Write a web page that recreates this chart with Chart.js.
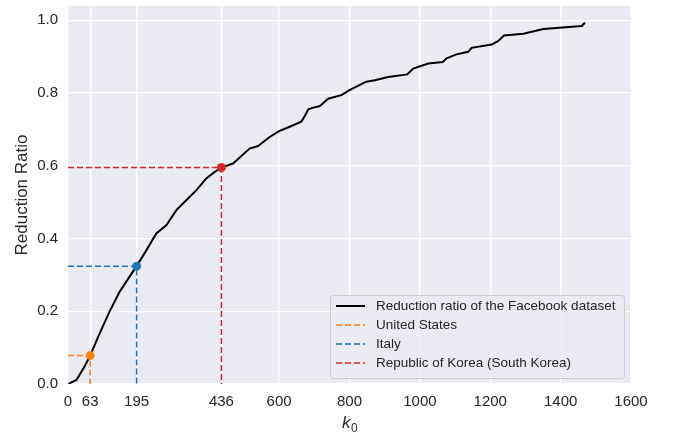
<!DOCTYPE html>
<html>
<head>
<meta charset="utf-8">
<script src="https://cdn.jsdelivr.net/npm/chart.js@4"></script>
<style>
  html, body { margin: 0; padding: 0; background: #ffffff; }
  #wrap { width: 674px; height: 437px; }
</style>
</head>
<body>
<div id="wrap"><canvas id="reductionChart"></canvas></div>
<script>
// curve: k0 -> reduction ratio
const kValues = [0, 24, 47, 63, 90, 118, 147, 175, 195, 223, 251, 280, 308, 336, 365, 393, 417, 436,
  469, 516, 540, 573, 600, 630, 663, 672, 683, 695, 716, 739, 777, 800, 848, 872, 910, 964, 981,
  1024, 1065, 1076, 1104, 1137, 1147, 1204, 1223, 1239, 1294, 1351, 1460, 1469];
const ratioValues = [0, 0.011, 0.048, 0.078, 0.139, 0.199, 0.254, 0.295, 0.324, 0.368, 0.414, 0.437,
  0.478, 0.505, 0.533, 0.565, 0.583, 0.595, 0.606, 0.647, 0.654, 0.679, 0.695, 0.707, 0.721, 0.735,
  0.755, 0.759, 0.764, 0.784, 0.794, 0.808, 0.831, 0.835, 0.844, 0.851, 0.867, 0.881, 0.885, 0.895,
  0.906, 0.913, 0.924, 0.933, 0.943, 0.958, 0.963, 0.976, 0.984, 0.993];

const countries = ['United States', 'Italy', 'Republic of Korea (South Korea)'];
const countryK = [63, 195, 436];
const countryRatio = [0.078, 0.324, 0.595];
const countryColors = ['#ff7f0e', '#1f77b4', '#d62728'];

const xTicks = [0, 63, 195, 436, 600, 800, 1000, 1200, 1400, 1600];
const yTicks = [0, 0.2, 0.4, 0.6, 0.8, 1.0];

const textColor = '#262626';
const fontFamily = '"Liberation Sans", Arial, sans-serif';

const datasets = [{
  label: 'Reduction ratio of the Facebook dataset',
  data: kValues.map((k, i) => ({ x: k, y: ratioValues[i] })),
  borderColor: '#000000',
  borderWidth: 2,
  pointRadius: 0,
  tension: 0,
  order: 2
}];

countries.forEach((name, i) => {
  datasets.push({
    label: name,
    // horizontal guide from the y axis, then down to the x axis
    data: [{ x: 0, y: countryRatio[i] }, { x: countryK[i], y: countryRatio[i] }, { x: countryK[i], y: 0 }],
    borderColor: countryColors[i],
    backgroundColor: countryColors[i],
    borderWidth: 1.5,
    borderDash: [6, 3],
    pointRadius: [0, 4.5, 0],
    pointBorderWidth: 0,
    tension: 0,
    order: 1
  });
});

const plotBackground = {
  id: 'plotBackground',
  beforeDraw(chart) {
    const { ctx, chartArea } = chart;
    ctx.save();
    ctx.fillStyle = '#eaeaf2';
    ctx.fillRect(chartArea.left, chartArea.top, chartArea.right - chartArea.left, chartArea.bottom - chartArea.top);
    ctx.restore();
  }
};

// matplotlib-like legend in the lower right corner of the axes
const innerLegend = {
  id: 'innerLegend',
  afterDraw(chart) {
    const { ctx, chartArea } = chart;
    const boxW = 294, boxH = 83;
    const x0 = chartArea.right - 7 - boxW;
    const y0 = chartArea.bottom - 6 - boxH;
    ctx.save();
    ctx.beginPath();
    ctx.roundRect(x0 + 0.5, y0 + 0.5, boxW, boxH, 3);
    ctx.fillStyle = 'rgba(234, 234, 242, 0.8)';
    ctx.fill();
    ctx.strokeStyle = '#cccccc';
    ctx.lineWidth = 1;
    ctx.stroke();

    ctx.font = '13.5px ' + fontFamily;
    ctx.textBaseline = 'middle';
    ctx.fillStyle = textColor;
    chart.data.datasets.forEach((ds, i) => {
      const y = y0 + 11 + i * 19;
      ctx.beginPath();
      ctx.strokeStyle = ds.borderColor;
      ctx.lineWidth = ds.borderWidth;
      ctx.setLineDash(ds.borderDash || []);
      ctx.moveTo(x0 + 6, y);
      ctx.lineTo(x0 + 35, y);
      ctx.stroke();
      ctx.setLineDash([]);
      ctx.fillText(ds.label, x0 + 46, y);
    });
    ctx.restore();
  }
};

const xAxisLabel = {
  id: 'xAxisLabel',
  afterDraw(chart) {
    const { ctx, chartArea } = chart;
    const cx = (chartArea.left + chartArea.right) / 2;
    ctx.save();
    ctx.fillStyle = textColor;
    ctx.textBaseline = 'alphabetic';
    ctx.font = 'italic 17px ' + fontFamily;
    const kW = ctx.measureText('k').width;
    ctx.font = '12px ' + fontFamily;
    const sW = ctx.measureText('0').width;
    const start = cx - (kW + sW) / 2;
    ctx.font = 'italic 17px ' + fontFamily;
    ctx.fillText('k', start, 428);
    ctx.font = '12px ' + fontFamily;
    ctx.fillText('0', start + kW + 0.5, 432);
    ctx.restore();
  }
};

const ctx = document.getElementById('reductionChart').getContext('2d');

const reductionChart = new Chart(ctx, {
  type: 'line',
  data: { datasets: datasets },
  options: {
    responsive: true,
    maintainAspectRatio: false,
    animation: false,
    layout: {
      padding: { left: 0, right: 43, top: 6, bottom: 0 }
    },
    plugins: {
      legend: { display: false },
      tooltip: { enabled: false }
    },
    scales: {
      x: {
        type: 'linear',
        min: 0,
        max: 1600,
        afterBuildTicks: (scale) => {
          scale.ticks = xTicks.map(v => ({ value: v }));
        },
        afterFit: (scale) => {
          scale.height = 53;
        },
        ticks: {
          autoSkip: false,
          maxRotation: 0,
          padding: 9,
          color: textColor,
          font: { family: fontFamily, size: 15 },
          callback: (value) => String(value)
        },
        grid: {
          color: '#ffffff',
          lineWidth: 1.3,
          drawTicks: false
        },
        border: { display: false }
      },
      y: {
        min: 0,
        max: 1.039,
        afterBuildTicks: (scale) => {
          scale.ticks = yTicks.map(v => ({ value: v }));
        },
        afterFit: (scale) => {
          scale.width = 68;
          scale.paddingTop = 0;
          scale.paddingBottom = 0;
        },
        title: {
          display: true,
          text: 'Reduction Ratio',
          color: textColor,
          font: { family: fontFamily, size: 17 },
          padding: { top: 12, bottom: 0 }
        },
        ticks: {
          padding: 10,
          color: textColor,
          font: { family: fontFamily, size: 15 },
          callback: (value) => value.toFixed(1)
        },
        grid: {
          color: '#ffffff',
          lineWidth: 1.3,
          drawTicks: false
        },
        border: { display: false }
      }
    }
  },
  plugins: [plotBackground, innerLegend, xAxisLabel]
});
</script>
</body>
</html>
